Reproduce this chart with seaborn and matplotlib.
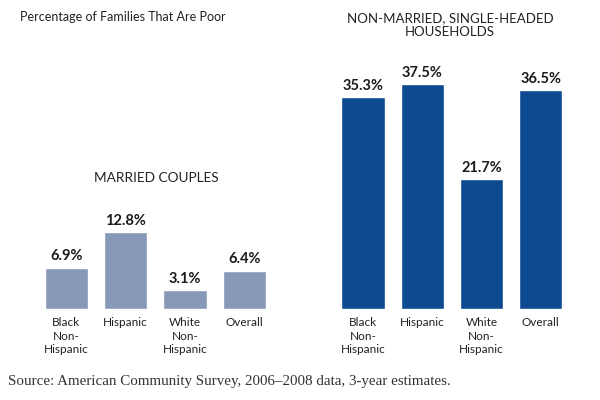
import matplotlib
matplotlib.use("Agg")
import matplotlib.pyplot as plt
import seaborn as sns
import pandas as pd

# ------------------------------
# Data
# ------------------------------
groups = ["Black\nNon-\nHispanic", "Hispanic", "White\nNon-\nHispanic", "Overall"]
married = [6.9, 12.8, 3.1, 6.4]
single = [35.3, 37.5, 21.7, 36.5]

married_color = "#8799b6"
single_color = "#0d4a8f"

sns.set_style("white")
plt.rcParams["font.family"] = ["Lato", "DejaVu Sans"]

fig = plt.figure(figsize=(6, 4), dpi=100)
ax_left = fig.add_axes([0.0613, 0.2275, 0.395, 0.675])
ax_right = fig.add_axes([0.5555, 0.2275, 0.395, 0.675])


def draw_panel(ax, values, color):
    df = pd.DataFrame({"group": groups, "pct": values})
    sns.barplot(data=df, x="group", y="pct", color=color, width=0.73,
                saturation=1, ax=ax)
    ax.bar_label(ax.containers[0], fmt="%.1f%%", padding=3,
                 fontsize=10.5, fontweight="bold", color="#1a1a1a")
    ax.set_ylim(0, 45)
    ax.set_xlim(-0.5, 3.5)
    ax.set_xlabel("")
    ax.set_ylabel("")
    ax.set_yticks([])
    ax.tick_params(axis="x", length=0, pad=6, labelsize=8.5, labelcolor="#222222")
    for lbl in ax.get_xticklabels():
        lbl.set_linespacing(1.25)
    sns.despine(ax=ax, left=True, bottom=True)
    ax.patch.set_alpha(0)


draw_panel(ax_left, married, married_color)
draw_panel(ax_right, single, single_color)

# ------------------------------
# Titles and notes
# ------------------------------
fig.text(20 / 600, 1 - 17 / 400, "Percentage of Families That Are Poor",
         fontsize=9, color="#222222", va="center", ha="left")
fig.text(156 / 600, 1 - 178 / 400, "MARRIED COUPLES",
         fontsize=9.8, color="#222222", va="center", ha="center")
fig.text(450 / 600, 1 - 25 / 400, "NON-MARRIED, SINGLE-HEADED\nHOUSEHOLDS",
         fontsize=9.5, color="#222222", va="center", ha="center", linespacing=1.1)
fig.text(8 / 600, 1 - 382 / 400,
         "Source: American Community Survey, 2006\u20132008 data, 3-year estimates.",
         fontsize=10.8, color="#333333", va="center", ha="left",
         family=["Liberation Serif", "DejaVu Serif"])

fig.savefig("out.png", dpi=100, facecolor="white")
